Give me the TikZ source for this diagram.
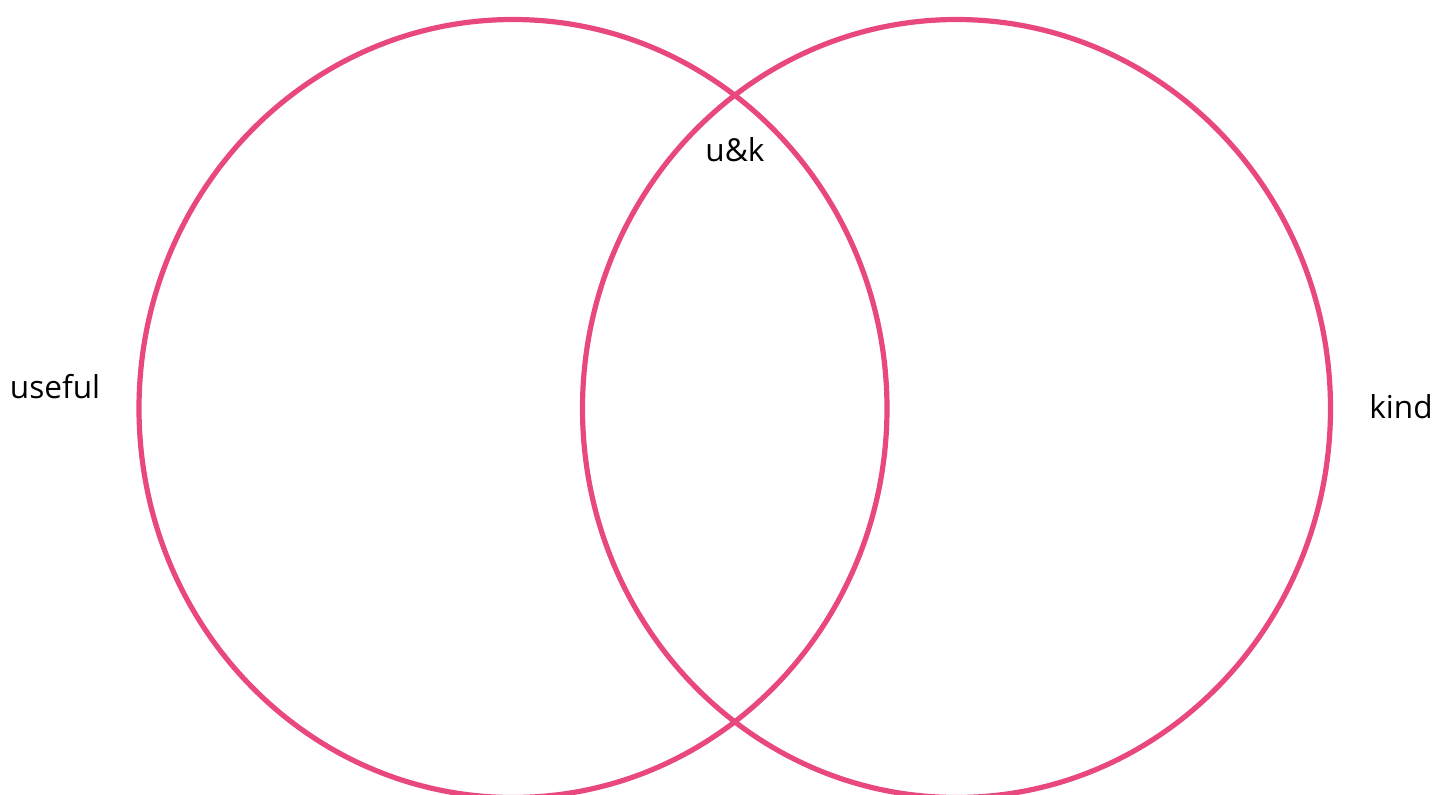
\documentclass[tikz,border=0pt]{standalone}
\usepackage{fontspec}
\setmainfont{Open Sans}
\definecolor{vennpink}{RGB}{232,72,125}
\begin{document}
\begin{tikzpicture}[x=0.5pt,y=-0.5pt,
  ring/.style={draw=vennpink,line width=2.6pt},
  lbl/.style={anchor=base,inner sep=0pt,font=\fontsize{15.8}{18}\selectfont}]
\useasboundingbox (0,0) rectangle (1437,794);
\draw[ring] (513,408.5) ellipse [x radius=374, y radius=389];
\draw[ring] (956.5,408.5) ellipse [x radius=374, y radius=389];
\node[lbl] (useful) at (55,398) {useful};
\node[lbl] (kind) at (1401,418) {kind};
\node[lbl] (uk) at (735,161) {u\&k};
\end{tikzpicture}
\end{document}
